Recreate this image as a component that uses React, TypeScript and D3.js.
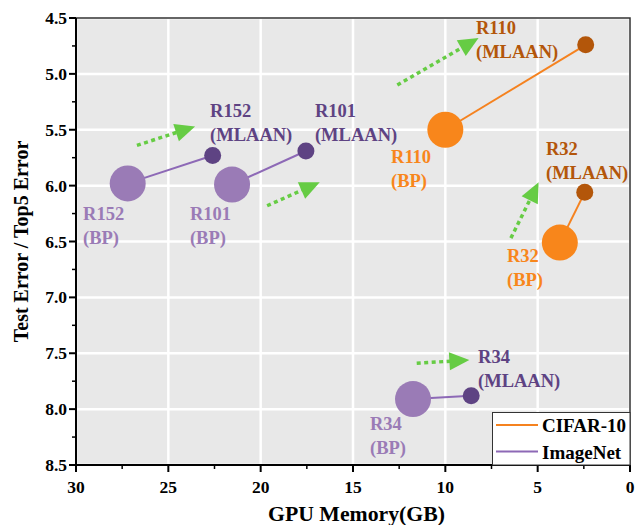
import React from 'react';
import * as d3 from 'd3';

// GPU memory (GB) and error for each model, BP vs MLAAN
const models = ['R152', 'R101', 'R110', 'R32', 'R34'];
const datasets = ['ImageNet', 'ImageNet', 'CIFAR-10', 'CIFAR-10', 'ImageNet'];
const bpMemory = [27.2, 21.55, 10.0, 3.8, 11.75];
const bpError = [5.98, 5.99, 5.5, 6.51, 7.91];
const mlaanMemory = [22.6, 17.55, 2.4, 2.45, 8.6];
const mlaanError = [5.73, 5.69, 4.74, 6.06, 7.88];

// label anchor points (data units): [x, y of first line baseline]
const bpLabelPos: [number, number][] = [[29.62, 6.31], [23.83, 6.31], [12.94, 5.8], [6.66, 6.68], [14.08, 8.187]];
const mlaanLabelPos: [number, number][] = [[22.74, 5.386], [17.06, 5.386], [8.34, 4.643], [4.55, 5.726], [8.23, 7.59]];

// green dotted "improvement" arrows: [x0, y0, x1, y1]
const arrows: [number, number, number, number][] = [
  [26.7, 5.64, 23.55, 5.47],
  [19.65, 6.18, 16.8, 5.97],
  [12.6, 5.1, 8.2, 4.68],
  [6.45, 6.47, 4.95, 5.97],
  [11.55, 7.59, 8.7, 7.56],
];

const xTicks = [30, 25, 20, 15, 10, 5, 0];
const yTicks = [4.5, 5.0, 5.5, 6.0, 6.5, 7.0, 7.5, 8.0, 8.5];
const legendItems = ['CIFAR-10', 'ImageNet'];

const colors: Record<string, { bp: string; mlaan: string; line: string }> = {
  'CIFAR-10': { bp: '#f8861b', mlaan: '#b3560a', line: '#f5821f' },
  ImageNet: { bp: '#9a7bb6', mlaan: '#5e4383', line: '#8d69b6' },
};

const font = '"Liberation Serif", "Times New Roman", serif';
const W = 636;
const H = 525;
const M = { left: 76, right: 6, top: 18, bottom: 60 };

export default function App() {
  const x = d3.scaleLinear().domain([30, 0]).range([M.left, W - M.right]);
  const y = d3.scaleLinear().domain([4.5, 8.5]).range([M.top, H - M.bottom]);
  const [x0, x1] = x.range();
  const [y0, y1] = y.range();
  const minorX = d3.range(27.5, 0, -5);
  const minorY = d3.range(4.75, 8.5, 0.5);
  const green = '#66cc44';

  return (
    <svg width={W} height={H} style={{ position: 'absolute', left: 0, top: 0 }} fontFamily={font}>
      <rect x={x0} y={y0} width={x1 - x0} height={y1 - y0} fill="#e8e8e8" />
      {xTicks.map(t => (
        <line key={'gx' + t} x1={x(t)} x2={x(t)} y1={y0} y2={y1} stroke="#fff" strokeWidth={2.5} />
      ))}
      {yTicks.map(t => (
        <line key={'gy' + t} x1={x0} x2={x1} y1={y(t)} y2={y(t)} stroke="#fff" strokeWidth={2.5} />
      ))}
      <rect x={x0} y={y0} width={x1 - x0} height={y1 - y0} fill="none" stroke="#333" strokeWidth={1.5} />

      {/* connecting lines */}
      {models.map((m, i) => (
        <line key={'l' + m} x1={x(bpMemory[i])} y1={y(bpError[i])} x2={x(mlaanMemory[i])} y2={y(mlaanError[i])}
          stroke={colors[datasets[i]].line} strokeWidth={2} />
      ))}
      {models.map((m, i) => (
        <g key={'p' + m}>
          <circle cx={x(bpMemory[i])} cy={y(bpError[i])} r={18} fill={colors[datasets[i]].bp} />
          <circle cx={x(mlaanMemory[i])} cy={y(mlaanError[i])} r={8.5} fill={colors[datasets[i]].mlaan} />
        </g>
      ))}

      {/* arrows */}
      {arrows.map((a, i) => {
        const ax0 = x(a[0]), ay0 = y(a[1]), ax1 = x(a[2]), ay1 = y(a[3]);
        const len = Math.hypot(ax1 - ax0, ay1 - ay0);
        const ux = (ax1 - ax0) / len, uy = (ay1 - ay0) / len;
        const hl = 20, hw = 9;
        const bx = ax1 - ux * hl, by = ay1 - uy * hl;
        const head = `M${ax1},${ay1} L${bx - uy * hw},${by + ux * hw} L${bx + uy * hw},${by - ux * hw} Z`;
        return (
          <g key={'a' + i}>
            <line x1={ax0} y1={ay0} x2={bx + ux * 2} y2={by + uy * 2} stroke={green} strokeWidth={3.5} strokeDasharray="4 3.5" />
            <path d={head} fill={green} />
          </g>
        );
      })}

      {/* labels */}
      {models.map((m, i) => {
        const c = colors[datasets[i]];
        const [bx, by] = bpLabelPos[i];
        const [mx, my] = mlaanLabelPos[i];
        return (
          <g key={'t' + m} fontSize={18.5} fontWeight="bold">
            <text x={x(bx)} y={y(by)} fill={c.bp}>{m}</text>
            <text x={x(bx)} y={y(by) + 24} fill={c.bp}>(BP)</text>
            <text x={x(mx)} y={y(my)} fill={c.mlaan}>{m}</text>
            <text x={x(mx)} y={y(my) + 24} fill={c.mlaan}>(MLAAN)</text>
          </g>
        );
      })}

      {/* axes */}
      <line x1={x0} x2={x0} y1={y0} y2={y1} stroke="#000" strokeWidth={2} />
      <line x1={x0} x2={x1} y1={y1} y2={y1} stroke="#000" strokeWidth={2} />
      {yTicks.map(t => (
        <g key={'yt' + t}>
          <line x1={x0 - 7} x2={x0} y1={y(t)} y2={y(t)} stroke="#000" strokeWidth={2} />
          <text x={x0 - 9} y={y(t) + 6} textAnchor="end" fontSize={17.5} fontWeight="bold">{t.toFixed(1)}</text>
        </g>
      ))}
      {minorY.map(t => (
        <line key={'my' + t} x1={x0 - 4} x2={x0} y1={y(t)} y2={y(t)} stroke="#000" strokeWidth={1.5} />
      ))}
      {xTicks.map(t => (
        <g key={'xt' + t}>
          <line x1={x(t)} x2={x(t)} y1={y1} y2={y1 + 7} stroke="#000" strokeWidth={2} />
          <text x={x(t)} y={y1 + 28} textAnchor="middle" fontSize={17.5} fontWeight="bold">{t}</text>
        </g>
      ))}
      {minorX.map(t => (
        <line key={'mx' + t} x1={x(t)} x2={x(t)} y1={y1} y2={y1 + 4} stroke="#000" strokeWidth={1.5} />
      ))}
      <text x={268} y={H - 4} fontSize={20} fontWeight="bold" textLength={177} lengthAdjust="spacingAndGlyphs">
        GPU Memory(GB)
      </text>
      <text transform={`translate(28,${(y0 + y1) / 2}) rotate(-90)`} textAnchor="middle" fontSize={20} fontWeight="bold">
        Test Error / Top5 Error
      </text>

      {/* legend */}
      <g>
        <rect x={492.5} y={412.5} width={x1 - 492.5} height={y1 - 412.5} fill="#fff" stroke="#333" strokeWidth={1} />
        {legendItems.map((d, i) => (
          <g key={d}>
            <line x1={496} x2={538} y1={425 + i * 26.5} y2={425 + i * 26.5} stroke={colors[d].line} strokeWidth={2} />
            <text x={542} y={432 + i * 26.5} fontSize={19} fontWeight="bold">{d}</text>
          </g>
        ))}
      </g>
    </svg>
  );
}
